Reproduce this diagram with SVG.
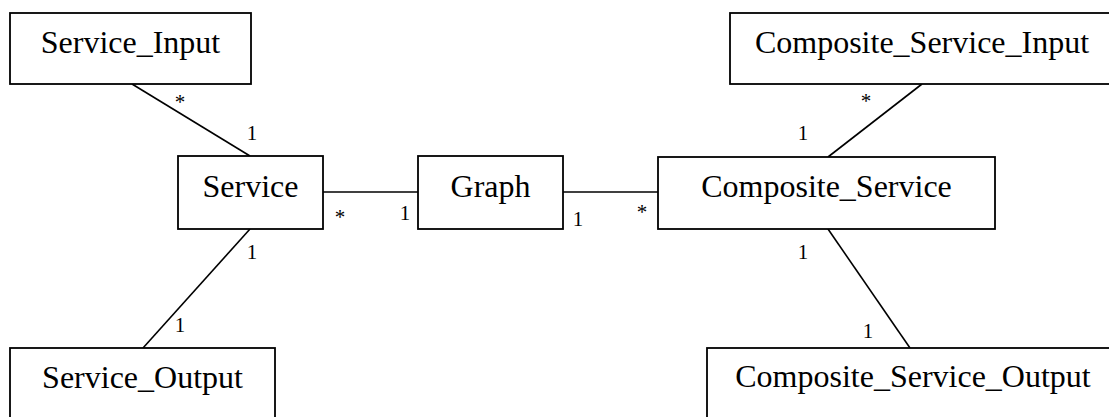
<svg xmlns="http://www.w3.org/2000/svg" width="1109" height="417" viewBox="0 0 1109 417">
<style>
.box{fill:#fff;stroke:#000;stroke-width:1.8}
.name{font-family:"Liberation Serif","Times New Roman",serif;font-size:32px;text-anchor:middle;fill:#000}
.lbl{font-family:"Liberation Serif","Times New Roman",serif;font-size:21px;text-anchor:middle;fill:#000}
.edge{stroke:#000;stroke-width:1.6;fill:none}
</style>
<rect width="1109" height="417" fill="#fff"/>
<g id="connectors">
<line class="edge" x1="132" y1="84" x2="250" y2="156"/>
<line class="edge" x1="250" y1="229" x2="143" y2="348"/>
<line class="edge" x1="323" y1="192" x2="418" y2="192"/>
<line class="edge" x1="563" y1="192" x2="658" y2="192"/>
<line class="edge" x1="922" y1="84" x2="828" y2="157"/>
<line class="edge" x1="828" y1="229" x2="910" y2="348"/>
<text class="lbl" x="180" y="109">*</text>
<text class="lbl" x="252" y="140">1</text>
<text class="lbl" x="252" y="259">1</text>
<text class="lbl" x="180" y="332">1</text>
<text class="lbl" x="340" y="224">*</text>
<text class="lbl" x="405" y="220">1</text>
<text class="lbl" x="578" y="226">1</text>
<text class="lbl" x="642" y="219">*</text>
<text class="lbl" x="866" y="108">*</text>
<text class="lbl" x="803" y="140">1</text>
<text class="lbl" x="803" y="259">1</text>
<text class="lbl" x="868" y="338">1</text>
</g>
<g id="service_input">
<rect class="box" x="10" y="13" width="241" height="71"/>
<text class="name" x="130.5" y="53">Service_Input</text>
</g>
<g id="service">
<rect class="box" x="178" y="156" width="145" height="73"/>
<text class="name" x="250.5" y="197">Service</text>
</g>
<g id="service_output">
<rect class="box" x="10" y="348" width="265" height="80"/>
<text class="name" x="142.5" y="388">Service_Output</text>
</g>
<g id="graph">
<rect class="box" x="418" y="156" width="145" height="73"/>
<text class="name" x="490.5" y="197">Graph</text>
</g>
<g id="composite_service">
<rect class="box" x="658" y="157" width="337" height="72"/>
<text class="name" x="826.5" y="197">Composite_Service</text>
</g>
<g id="composite_service_input">
<rect class="box" x="730" y="13" width="384" height="71"/>
<text class="name" x="922" y="53">Composite_Service_Input</text>
</g>
<g id="composite_service_output">
<rect class="box" x="707" y="348" width="412" height="80"/>
<text class="name" x="913" y="387">Composite_Service_Output</text>
</g>
</svg>
